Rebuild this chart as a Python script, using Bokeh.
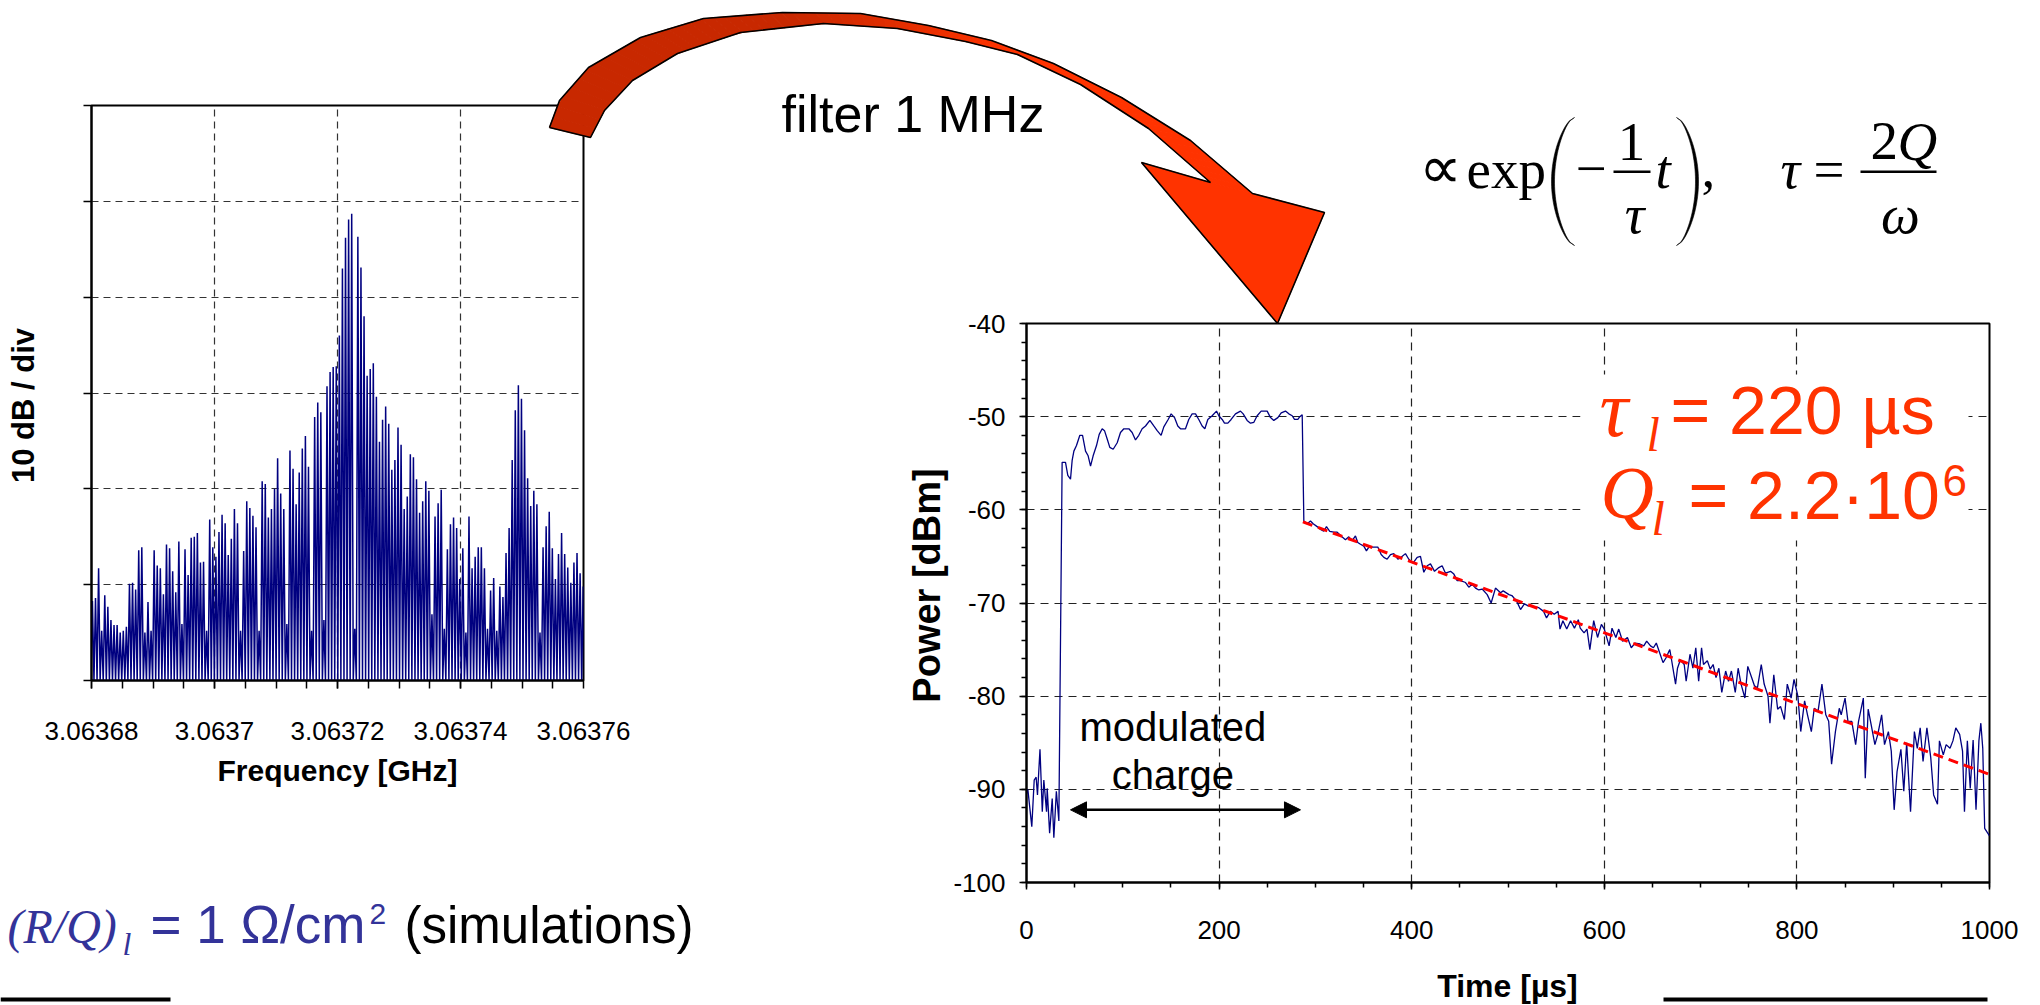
import numpy as np
from bokeh.plotting import figure
from bokeh.models import Range1d, FixedTicker, Label, BoxAnnotation, Arrow, NormalHead
from bokeh.embed import file_html
from bokeh.resources import INLINE

# ---------------- data ----------------
# left: spectrum spikes (height in divisions of 10 dB, 0 = bottom of the frame)
spec_peaks_div = [
    0.83, 0.86, 1.17, 0.52, 0.89, 0.77, 0.63, 0.58, 0.58, 0.50, 0.52, 0.56, 1.01, 1.02, 0.95, 1.36,
    1.39, 0.50, 0.82, 0.52, 1.36, 1.20, 1.17, 0.90, 1.42, 1.38, 1.14, 0.92, 1.45, 0.59, 1.37, 1.10,
    1.49, 1.50, 1.54, 1.23, 1.24, 0.52, 1.68,
    1.39, 1.29, 1.55, 1.73, 1.64, 1.31, 1.48, 1.79, 1.64, 0.52, 1.35, 1.87, 1.80, 1.72, 1.60, 0.52,
    2.08, 2.05, 1.70, 1.79, 2.00, 2.32, 1.95, 1.79, 0.59, 2.40, 2.21, 1.84, 2.17, 2.42, 2.55, 2.23,
    0.52, 2.75, 2.90, 2.80, 0.63, 3.07, 3.22, 3.27,
    3.28, 3.60, 4.30, 4.62, 4.81, 4.87, 0.54, 4.63, 4.31, 3.80, 3.18, 3.25, 3.31, 2.96, 2.49, 2.72,
    2.86, 2.68, 2.20, 2.30, 2.64, 2.46, 1.79, 1.92, 2.36, 2.33, 2.10, 1.75, 1.87, 2.08, 1.98, 0.69,
    1.71, 1.85, 1.99, 0.54, 1.37, 1.63, 1.70,
    1.59, 1.06, 1.38, 0.50, 1.71, 1.17, 1.29, 1.39, 1.39, 1.17, 0.54, 0.94, 1.07, 0.52, 0.98, 0.87,
    1.33, 1.59, 2.30, 2.82, 3.08, 2.94, 2.61, 2.11, 1.82, 1.98, 1.84, 0.50, 1.39, 1.61, 1.76, 1.38,
    1.06, 1.32, 1.54, 1.32, 1.18, 1.02, 1.23, 1.33, 1.12, 0.98,
]
spec_f_min = 3.06368
spec_f_max = 3.06376
spec_tick_ghz = [3.06368, 3.06370, 3.06372, 3.06374, 3.06376]
spec_tick_labels = ["3.06368", "3.0637", "3.06372", "3.06374", "3.06376"]
spec_minor_ghz = [3.06368 + 0.000005 * k for k in range(17)]
spec_div_ticks = [0, 1, 2, 3, 4, 5, 6]

# right: measured power vs time
time_us = [
    0.0, 1.4, 5.5, 8.0, 10.0, 11.4, 14.0, 16.4, 18.0, 20.8, 21.5, 24.0, 26.7, 28.4, 31.0, 33.6,
    37.0, 40.5, 42.9, 45.7, 47.4, 49.2, 51.9, 55.4, 58.2, 61.3, 64.0, 66.5, 69.2, 72.7, 75.5, 78.6,
    81.0, 83.8, 86.5, 90.0, 94.2, 97.6, 101.1, 106.3, 109.7, 113.2, 116.6, 120.1, 123.6, 128.1,
    132.2, 135.7, 139.8, 142.6, 147.1, 150.2, 153.7, 157.1, 159.9, 165.1, 168.5, 172.0, 175.5,
    178.9, 182.4, 185.2, 188.3, 192.8, 197.3, 199.7, 203.2, 205.6, 209.1, 212.5, 217.0, 222.2,
    225.0, 229.1, 232.6, 236.1, 239.5, 243.7, 249.9, 253.4, 256.8, 261.0, 264.5, 268.9, 272.4,
    275.9, 278.3, 281.8, 283.8, 286.3,
    288.0, 291.5, 294.9, 297.7, 301.8, 305.3, 308.7, 311.5, 314.9, 319.1, 322.6, 326.7, 331.2,
    334.7, 338.2, 341.6, 344.0, 346.8, 350.3, 353.0, 355.5, 360.7, 364.8, 368.3, 371.1, 374.5,
    378.0, 381.4, 385.6, 389.0, 393.5, 397.0, 401.5, 405.7, 409.1, 412.6, 416.1, 419.5, 423.7,
    428.2, 431.6, 435.1, 440.3, 443.8, 447.2, 450.7, 455.9, 459.3, 462.8, 466.3, 469.7, 473.2,
    478.4, 482.5, 487.0, 492.2,
    495, 501, 504, 509, 513, 517, 521, 527, 532, 537, 540, 544, 548, 552, 554, 557, 561, 565, 569,
    573, 575, 579, 582, 585, 589, 593, 597, 600, 605, 608, 612, 615, 619, 624, 628, 632, 637, 641,
    644, 648, 651, 654, 658, 661, 664, 668, 670, 674, 676, 679, 683, 685, 689, 692, 695, 698, 701,
    703, 707, 710, 713, 716, 719, 722, 726, 729, 732, 736, 739, 742, 746, 749, 753, 756, 759, 763,
    766, 770, 772, 776, 780, 783, 787, 790, 794, 797, 801, 804, 808, 811, 815, 818, 822, 826, 830,
    833, 836, 840, 844, 846, 850, 853, 857, 861, 864, 869, 871, 874, 877, 881, 884, 888, 891, 895,
    898, 901, 904, 908, 911, 914, 918, 922, 925, 928, 931, 935, 939, 942, 946, 948, 952, 955, 959,
    962, 965, 969, 972, 974, 977, 980, 983, 986, 989, 991, 993, 995, 1000,
]
power_dbm = [
    -90.5, -90.0, -94.0, -89.0, -88.7, -90.6, -85.7, -92.4, -89.0, -92.4, -89.9, -94.7, -91.0, -95.2, -90.2, -93.4,
    -54.9, -54.9, -56.3, -56.7, -54.7, -53.7, -53.1, -52.0, -52.0, -53.7, -54.2, -55.3, -54.2, -53.1, -51.9, -51.3,
    -51.5, -52.4, -53.3, -53.5, -52.8, -51.7, -51.3, -51.3, -51.7, -52.5, -52.0, -51.3, -51.0, -50.4,
    -51.0, -51.5, -52.0, -51.1, -50.3, -49.7, -50.1, -51.0, -51.3, -51.3, -50.3, -49.7, -49.7,
    -50.3, -51.0, -51.3, -50.3, -49.9, -49.4, -49.9, -50.3, -50.7, -50.7, -50.3, -49.7, -49.4,
    -49.7, -50.4, -50.7, -50.6, -49.9, -49.4, -49.4, -50.1, -50.4, -50.1, -49.6, -49.4, -49.7,
    -49.9, -50.3, -50.3, -50.0, -49.8,
    -61.2, -61.5, -61.2, -61.5, -61.8, -62.1, -62.3, -61.8, -62.3, -62.4, -62.4, -62.8, -63.2,
    -62.9, -63.3, -62.8, -63.5, -63.7, -63.9, -64.4, -64.0, -64.0, -64.0, -64.8, -65.1, -65.3,
    -64.8, -64.7, -65.3, -65.1, -64.7, -65.3, -65.7, -65.1, -65.0, -66.7, -66.0, -65.8, -66.6,
    -66.2, -66.0, -66.8, -66.6, -66.9, -67.6, -67.6, -67.8, -68.3, -68.0, -68.4, -68.6, -68.5,
    -69.1, -70.0, -68.4, -68.9,
    -68.7, -69.1, -69.2, -69.8, -70.7, -70.1, -70.3, -70.4, -70.5, -70.9, -71.6, -70.9, -71.2, -70.9, -72.8, -71.9, -72.8, -71.9, -72.7,
    -71.8, -72.7, -73.2, -72.8, -75.0, -71.9, -73.7, -72.3, -72.8, -74.6, -72.7, -73.7, -72.8, -74.1, -73.7, -74.8, -74.3, -74.4, -74.6,
    -74.1, -74.6, -74.8, -74.3, -75.5, -76.4, -75.9, -75.0, -76.2, -78.7, -77.0, -76.1, -76.6, -78.4, -75.5, -77.0, -74.8, -78.4, -74.8,
    -76.6, -76.2, -77.1, -76.6, -78.0, -77.0, -79.6, -77.3, -78.4, -77.3, -79.6, -77.0, -78.7, -80.2, -76.8, -78.0, -78.9, -79.1, -76.6,
    -78.7, -80.0, -82.9, -77.7, -81.4, -81.1, -82.5, -78.7, -80.2, -78.2, -80.0, -83.8, -80.5, -82.0, -83.8, -81.3, -81.6, -78.7, -82.0,
    -82.7, -87.3, -83.8, -81.3, -82.0, -80.2, -82.7, -82.7, -85.2, -82.7, -80.2, -88.8, -81.4, -83.0, -85.2, -84.1, -82.0, -85.2, -83.8,
    -85.9, -92.2, -88.1, -85.7, -90.2, -85.0, -92.4, -83.8, -85.6, -83.4, -87.0, -83.4, -86.6, -90.6, -91.6, -84.8, -86.3, -85.2, -85.6,
    -84.8, -83.4, -84.1, -85.9, -92.4, -84.8, -89.9, -84.7, -92.2, -84.8, -82.9, -85.6, -94.2, -95.0,
]
fit_time_us = [287.0, 1000.0]
fit_power_dbm = [-61.3, -88.4]
time_ticks = [0, 200, 400, 600, 800, 1000]
time_minor = list(range(0, 1001, 50))
power_ticks = [-100, -90, -80, -70, -60, -50, -40]
power_tick_labels = ["-100", "-90", "-80", "-70", "-60", "-50", "-40"]
power_minor = list(range(-100, -39, 2))
charge_span_us = [45.7, 284.5]
charge_level_dbm = -92.2
charge_text_us = 152.0
charge_text_dbm = [-83.3, -88.5]

# ---------------- styling / geometry ----------------
SANS = "Liberation Sans"
SERIF = "Liberation Serif"
NAVY = "#000080"
ORANGE = "#FF3300"
BLUE_TXT = "#333399"
PAGE_W, PAGE_H = 2040, 1005
ABS = {"position": "absolute", "left": "0px", "top": "0px"}
BASE_SHIFT = 0.3  # label y correction (in em) so that y is the alphabetic baseline

L_FRAME = (91, 105, 492, 575)      # left, top, width, height (page px)
R_FRAME = (1026, 323, 963, 559)


def style_axis(ax, size=26):
    ax.major_label_text_font = SANS
    ax.major_label_text_font_size = f"{size}px"
    ax.major_label_text_color = "black"
    ax.axis_line_color = "black"
    ax.axis_line_width = 2
    ax.major_tick_line_color = "black"
    ax.minor_tick_line_color = "black"
    ax.major_tick_line_width = 1.5
    ax.minor_tick_line_width = 1.5
    ax.major_tick_in = 0
    ax.minor_tick_in = 0


def chart(frame, xr, yr):
    l, t, w, h = frame
    p = figure(width=PAGE_W, height=PAGE_H, title=None, x_range=xr, y_range=yr,
               output_backend="svg", toolbar_location=None,
               min_border_left=l, min_border_right=PAGE_W - (l + w),
               min_border_top=t, min_border_bottom=PAGE_H - (t + h), styles=ABS)
    p.background_fill_color = "white"
    p.border_fill_alpha = 0.0
    p.outline_line_color = "black"
    p.outline_line_width = 2
    p.outline_line_alpha = 1.0
    return p


# ---------------- left chart: spectrum ----------------
p1 = chart(L_FRAME, Range1d(spec_f_min, spec_f_max), Range1d(0, 6))
xa = p1.xaxis[0]
xa.ticker = FixedTicker(ticks=spec_tick_ghz, minor_ticks=spec_minor_ghz)
xa.major_label_overrides = {t: s for t, s in zip(spec_tick_ghz, spec_tick_labels)}
style_axis(xa)
xa.major_tick_out = 8
xa.minor_tick_out = 8
xa.major_label_standoff = 33

ya = p1.yaxis[0]
ya.ticker = FixedTicker(ticks=spec_div_ticks)
style_axis(ya)
ya.major_label_overrides = {t: "" for t in spec_div_ticks}
ya.major_tick_out = 8
ya.minor_tick_line_color = None

for g in (p1.xgrid[0], p1.ygrid[0]):
    g.grid_line_color = "#333333"
    g.grid_line_dash = "7 5"
    g.grid_line_width = 1.2

spec_f = np.linspace(spec_f_min + 0.15e-6, spec_f_max - 0.05e-6, len(spec_peaks_div))
step = spec_f[1] - spec_f[0]
path_x, path_y = [spec_f[0] - step / 2], [0.0]
for k, v in enumerate(spec_peaks_div):
    path_x.append(spec_f[k]); path_y.append(v)
    path_x.append(spec_f[k] + step / 2); path_y.append(0.0)
p1.line(path_x, path_y, line_color=NAVY, line_width=1.5)

# ---------------- right chart: decay ----------------
p2 = chart(R_FRAME, Range1d(0, 1000), Range1d(-100, -40))
xb = p2.xaxis[0]
xb.ticker = FixedTicker(ticks=time_ticks, minor_ticks=time_minor)
style_axis(xb)
xb.major_tick_out = 7
xb.minor_tick_out = 5
xb.major_label_standoff = 31

yb = p2.yaxis[0]
yb.ticker = FixedTicker(ticks=power_ticks, minor_ticks=power_minor)
yb.major_label_overrides = {t: s for t, s in zip(power_ticks, power_tick_labels)}
style_axis(yb)
yb.major_tick_out = 7
yb.minor_tick_out = 5
yb.major_label_standoff = 14

for g in (p2.xgrid[0], p2.ygrid[0]):
    g.grid_line_color = "#222222"
    g.grid_line_dash = "8 6"
    g.grid_line_width = 1.2


def conv_right(px, py):
    l, t, w, h = R_FRAME
    return ((px - l) / w * 1000.0, -40 - (py - t) / h * 60.0)


bx0, by0 = conv_right(1580, 374)
bx1, by1 = conv_right(1968, 540)
p2.add_layout(BoxAnnotation(left=bx0, right=bx1, top=by0, bottom=by1, fill_color="white",
                            fill_alpha=1.0, line_alpha=0.0))

p2.line(time_us, power_dbm, line_color=NAVY, line_width=1.3)
p2.line(fit_time_us, fit_power_dbm, line_color="#FF0000", line_width=3, line_dash="10 6")

p2.add_layout(Arrow(start=NormalHead(size=16, fill_color="black", line_color="black"),
                    end=NormalHead(size=16, fill_color="black", line_color="black"),
                    x_start=charge_span_us[0], y_start=charge_level_dbm,
                    x_end=charge_span_us[1], y_end=charge_level_dbm,
                    line_color="black", line_width=2.5))
for txt, yv in zip(["modulated", "charge"], charge_text_dbm):
    p2.add_layout(Label(x=charge_text_us, y=yv, text=txt, text_font=SANS, text_font_size="40px",
                        text_align="center", text_baseline="alphabetic", text_color="black"))

# ---------------- overlay: texts and decorations outside the frames ----------------
ov = figure(width=PAGE_W, height=PAGE_H, title=None, x_range=Range1d(0, PAGE_W),
            y_range=Range1d(PAGE_H, 0), output_backend="svg", toolbar_location=None,
            x_axis_location=None, y_axis_location=None,
            min_border_left=0, min_border_right=0, min_border_top=0, min_border_bottom=0,
            styles=ABS)
ov.grid.visible = False
ov.background_fill_alpha = 0.0
ov.border_fill_alpha = 0.0
ov.outline_line_color = None


def label(px, py, text, size, color="black", font=SANS, style="normal",
          align="left", baseline="alphabetic", angle=0.0):
    if baseline == "alphabetic":
        py = py - BASE_SHIFT * size
    ov.add_layout(Label(x=px, y=py, text=text, text_font=font, text_font_size=f"{size}px",
                        text_color=color, text_font_style=style, text_align=align,
                        text_baseline=baseline, angle=angle))


def bar(x0, y0, x1, y1, color="black"):
    ov.quad(left=x0, right=x1, top=y0, bottom=y1, fill_color=color, line_color=None)


# big curved arrow (decoration, page pixels)
arrow_outer = [(549, 127), (559, 100), (588, 67), (640, 37), (703, 18), (782, 12), (860, 13),
               (928, 25), (991, 40), (1053, 63), (1121, 97), (1190, 140), (1252, 193)]
arrow_inner = [(590, 137), (604, 110), (632, 80), (677, 53), (740, 32), (823, 23), (897, 28),
               (965, 41), (1017, 54), (1080, 84), (1148, 128), (1210, 182)]
arrow_head = [(1252, 193), (1324, 212), (1277, 323), (1141, 162), (1210, 182)]


def resample(pts, n):
    a = np.array(pts, dtype=float)
    d = np.r_[0, np.cumsum(np.hypot(*np.diff(a, axis=0).T))]
    s = np.linspace(0, d[-1], n)
    return np.c_[np.interp(s, d, a[:, 0]), np.interp(s, d, a[:, 1])]


n = 70
o = resample(arrow_outer, n)
i = resample(arrow_inner, n)
dark = np.array([200, 40, 0])
bright = np.array([255, 51, 0])
sx, sy, sc = [], [], []
for k in range(n - 1):
    t = k / (n - 2)
    f = min(1.0, max(0.0, (t - 0.35) / 0.3))
    c = dark * (1 - f) + bright * f
    sc.append("#%02x%02x%02x" % tuple(int(round(v)) for v in c))
    sx.append([o[k, 0], o[k + 1, 0], i[k + 1, 0], i[k, 0]])
    sy.append([o[k, 1], o[k + 1, 1], i[k + 1, 1], i[k, 1]])
sx.append([p[0] for p in arrow_head]); sy.append([p[1] for p in arrow_head])
sc.append("#%02x%02x%02x" % tuple(bright))
ov.patches(sx, sy, fill_color=sc, line_color=sc, line_width=1.0)
outline = arrow_outer + arrow_head[1:4] + arrow_inner[::-1] + arrow_outer[:1]
ov.line([p[0] for p in outline], [p[1] for p in outline], line_color="black", line_width=1.6)

# left chart titles and note
label(23, 405, "10 dB / div", 31, style="bold", align="center", baseline="middle", angle=np.pi / 2)
label(337, 770, "Frequency [GHz]", 30, style="bold", align="center", baseline="middle")
label(7, 940, "(R/Q)", 48, color=BLUE_TXT, font=SERIF, style="italic")
label(122, 953, "l", 32, color=BLUE_TXT, font=SERIF, style="italic")
label(150, 940, "= 1 Ω/cm", 53, color=BLUE_TXT)
label(369, 922, "2", 30, color=BLUE_TXT)
label(404, 940, "(simulations)", 51)
bar(0, 997, 170, 1001)

# right chart titles
label(926, 585, "Power [dBm]", 38, style="bold", align="center", baseline="middle", angle=np.pi / 2)
label(1507, 985, "Time [µs]", 32, style="bold", align="center", baseline="middle")
bar(1663, 997, 1987, 1001)

label(781, 129, "filter 1 MHz", 52)

# result text
label(1599, 432, "τ", 80, color=ORANGE, font=SERIF, style="italic")
label(1646, 448, "l", 48, color=ORANGE, font=SERIF, style="italic")
label(1670, 430, "= 220 µs", 68, color=ORANGE)
label(1600, 515, "Q", 74, color=ORANGE, font=SERIF, style="italic")
label(1651, 532, "l", 48, color=ORANGE, font=SERIF, style="italic")
label(1688, 515, "= 2.2·10", 68, color=ORANGE)
label(1942, 493, "6", 44, color=ORANGE)

# formula  ∝ exp(-t/τ),  τ = 2Q/ω
FS = 55
label(1418, 185, "∝", 60, font=SERIF)
label(1466, 185, "exp", FS, font=SERIF)
label(1575, 185, "−", FS, font=SERIF)
label(1631, 158, "1", FS, font=SERIF, align="center")
bar(1613, 170, 1650, 172.5)
label(1634, 230, "τ", FS, font=SERIF, style="italic", align="center")
label(1655, 185, "t", FS, font=SERIF, style="italic")
label(1701, 185, ",", FS, font=SERIF)
label(1780, 185, "τ", FS, font=SERIF, style="italic")
label(1813, 185, "=", FS, font=SERIF)
bar(1860, 170, 1936, 172.5)
label(1870, 157, "2", FS, font=SERIF)
label(1897, 157, "Q", FS, font=SERIF, style="italic")
label(1900, 230, "ω", FS, font=SERIF, style="italic", align="center")


def paren(x_end, bulge, top, bottom, m=40):
    tt = np.linspace(0, 1, m)
    y = top + (bottom - top) * tt
    prof = np.sin(np.pi * tt) ** 0.6
    xo = x_end + bulge * prof
    xi = x_end + (bulge - np.sign(bulge) * 3.0) * prof
    ov.patch(list(xo) + list(xi[::-1]), list(y) + list(y[::-1]), fill_color="black",
             line_color="black", line_width=0.6)


paren(1574, -23, 117, 245)
paren(1676, 22, 117, 245)

open("out.html", "w").write(file_html([p1, p2, ov], INLINE))
